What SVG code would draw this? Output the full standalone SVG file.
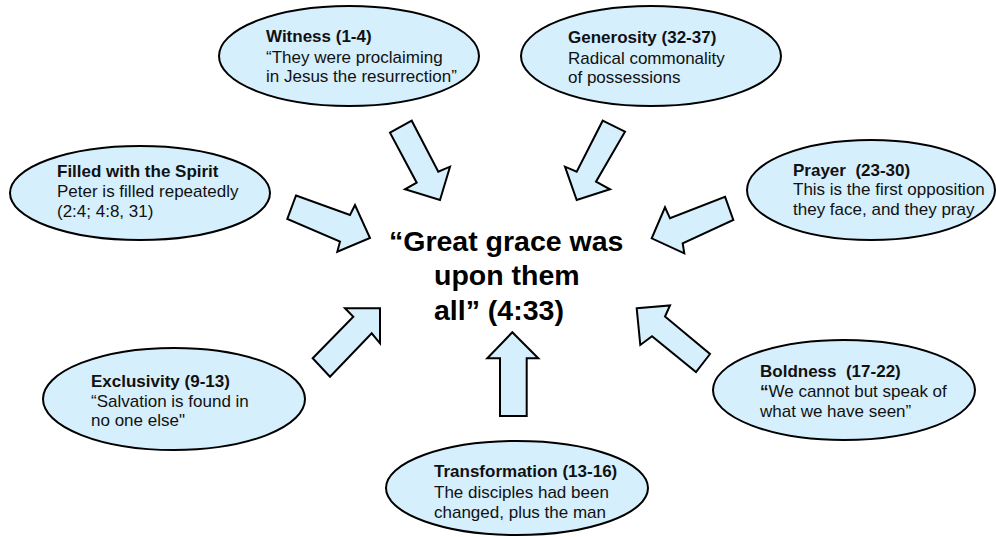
<svg xmlns="http://www.w3.org/2000/svg" width="996" height="537" viewBox="0 0 996 537">
<style>
.bub{fill:#d6effd;stroke:#000;stroke-width:2}
.arr{fill:#d6effd;stroke:#000;stroke-width:2;stroke-linejoin:miter}
.t{font-family:"Liberation Sans",Arial,sans-serif;font-size:17px;fill:#111}
.b{font-weight:bold}
.c{font-family:"Liberation Sans",Arial,sans-serif;font-size:28.5px;font-weight:bold;fill:#000}
</style>
<rect width="996" height="537" fill="#fff"/>
<g id="connectors">
<polygon class="arr" points="390,132.7 411.7,120.7 438.3,171.7 450,166.7 440,200 405,189.3 416.7,182.7"/>
<polygon class="arr" points="602.7,120.7 625,131.7 596,181.7 610,189.3 576.7,200 565,166.7 576.7,171.7"/>
<polygon class="arr" points="296,195.5 350,215 355,205 370,238 337.3,251.7 340,241.7 287.3,219"/>
<polygon class="arr" points="725,196.7 733.3,220 682.7,243.3 684.3,253.3 651.7,238.3 665,207.3 670,218.3"/>
<polygon class="arr" points="312.7,358.3 353.3,316.7 345,308.3 380,308.3 380,343.3 371.7,333.3 330,376.7"/>
<polygon class="arr" points="512.3,332.3 538.3,358.3 526.7,358.3 526.7,416 500,416 500,358.3 487.3,358.3"/>
<polygon class="arr" points="636.7,308.3 670,305.5 665,316.5 710,354 696,372 652,336.3 640.3,345"/>
</g>
<g id="center">
<text class="c" x="389" y="251">“Great grace was</text>
<text class="c" x="434" y="285">upon them</text>
<text class="c" x="434" y="320">all” (4:33)</text>
</g>
<g id="witness">
<ellipse class="bub" cx="349" cy="56" rx="130" ry="50"/>
<text class="t b" x="266" y="42">Witness (1-4)</text>
<text class="t" x="266" y="63">“They were proclaiming</text>
<text class="t" x="266" y="82">in Jesus the resurrection”</text>
</g>
<g id="generosity">
<ellipse class="bub" cx="651" cy="56" rx="130" ry="50"/>
<text class="t b" x="568" y="43">Generosity (32-37)</text>
<text class="t" x="568" y="64">Radical commonality</text>
<text class="t" x="568" y="83">of possessions</text>
</g>
<g id="filled">
<ellipse class="bub" cx="140" cy="193" rx="130" ry="47"/>
<text class="t b" x="57" y="177">Filled with the Spirit</text>
<text class="t" x="57" y="197">Peter is filled repeatedly</text>
<text class="t" x="57" y="217">(2:4; 4:8, 31)</text>
</g>
<g id="prayer">
<ellipse class="bub" cx="871" cy="190" rx="124" ry="50"/>
<text class="t b" x="793" y="176" xml:space="preserve">Prayer  (23-30)</text>
<text class="t" x="793" y="195">This is the first opposition</text>
<text class="t" x="793" y="215">they face, and they pray</text>
</g>
<g id="exclusivity">
<ellipse class="bub" cx="174" cy="399" rx="131" ry="51"/>
<text class="t b" x="91" y="387">Exclusivity (9-13)</text>
<text class="t" x="91" y="407">“Salvation is found in</text>
<text class="t" x="91" y="426">no one else"</text>
</g>
<g id="boldness">
<ellipse class="bub" cx="844" cy="390" rx="131" ry="50"/>
<text class="t b" x="760" y="377" xml:space="preserve">Boldness  (17-22)</text>
<text class="t" x="760" y="397"><tspan class="b">“</tspan>We cannot but speak of</text>
<text class="t" x="760" y="417">what we have seen”</text>
</g>
<g id="transformation">
<ellipse class="bub" cx="517" cy="488" rx="131" ry="47"/>
<text class="t b" x="434" y="477">Transformation (13-16)</text>
<text class="t" x="434" y="498">The disciples had been</text>
<text class="t" x="434" y="518">changed, plus the man</text>
</g>
</svg>
